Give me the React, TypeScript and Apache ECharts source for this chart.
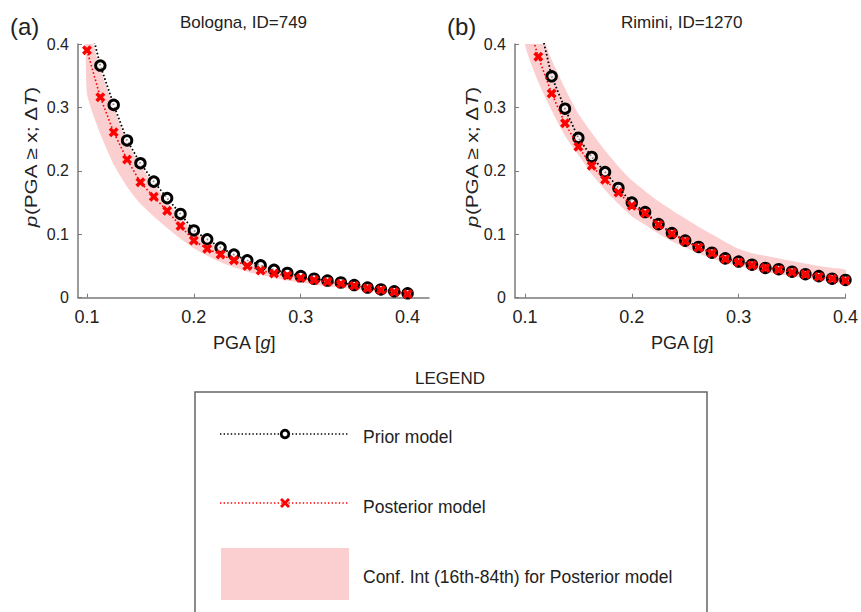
import React, { useEffect, useRef } from 'react';
import * as echarts from 'echarts';

// PGA grid (g)
const PGA = [0.1, 0.1125, 0.125, 0.1375, 0.15, 0.1625, 0.175, 0.1875, 0.2, 0.2125, 0.225, 0.2375, 0.25,
  0.2625, 0.275, 0.2875, 0.3, 0.3125, 0.325, 0.3375, 0.35, 0.3625, 0.375, 0.3875, 0.4];
const X_TICKS = [0.1, 0.2, 0.3, 0.4];

// (a) Bologna, ID=749
const bolognaPrior = [0.45, 0.366, 0.304, 0.248, 0.212, 0.183, 0.157, 0.132, 0.106, 0.092, 0.079, 0.068, 0.059,
  0.051, 0.044, 0.039, 0.034, 0.030, 0.027, 0.024, 0.020, 0.016, 0.013, 0.010, 0.007];
const bolognaPosterior = [0.390, 0.316, 0.261, 0.218, 0.182, 0.159, 0.137, 0.113, 0.090, 0.077, 0.068, 0.059, 0.050,
  0.043, 0.038, 0.035, 0.031, 0.028, 0.025, 0.022, 0.019, 0.015, 0.012, 0.009, 0.006];
const bolognaLower = [0.322, 0.258, 0.21, 0.175, 0.148, 0.128, 0.11, 0.093, 0.078, 0.066, 0.056, 0.048, 0.041,
  0.036, 0.031, 0.027, 0.024, 0.021, 0.018, 0.016, 0.013, 0.011, 0.009, 0.006, 0.004];
const bolognaUpper = [0.43, 0.36, 0.30, 0.245, 0.208, 0.178, 0.152, 0.127, 0.104, 0.09, 0.077, 0.067, 0.058,
  0.05, 0.044, 0.039, 0.034, 0.03, 0.027, 0.023, 0.02, 0.017, 0.014, 0.01, 0.007];

// (b) Rimini, ID=1270
const riminiPrior = [0.53, 0.44, 0.349, 0.298, 0.252, 0.222, 0.198, 0.173, 0.150, 0.135, 0.116, 0.102, 0.090,
  0.080, 0.071, 0.062, 0.057, 0.052, 0.047, 0.045, 0.041, 0.037, 0.034, 0.030, 0.028];
const riminiPosterior = [0.45, 0.380, 0.322, 0.275, 0.238, 0.208, 0.186, 0.166, 0.145, 0.133, 0.115, 0.101, 0.089,
  0.079, 0.070, 0.061, 0.056, 0.051, 0.047, 0.044, 0.040, 0.037, 0.033, 0.030, 0.027];
const riminiLower = [0.40, 0.34, 0.295, 0.255, 0.225, 0.195, 0.17, 0.148, 0.128, 0.115, 0.101, 0.089, 0.079,
  0.07, 0.062, 0.055, 0.05, 0.045, 0.041, 0.037, 0.034, 0.031, 0.028, 0.025, 0.023];
const riminiUpper = [0.48, 0.43, 0.375, 0.33, 0.29, 0.26, 0.232, 0.207, 0.185, 0.168, 0.152, 0.138, 0.125,
  0.112, 0.1, 0.088, 0.077, 0.07, 0.066, 0.062, 0.058, 0.054, 0.05, 0.047, 0.044];

const FONT = 'Liberation Sans, Arial, Helvetica, sans-serif';
const RED = '#ff0000';
const PINK = '#fbcfcf';
const AXIS = '#7a7a7a';
const TXT = '#222222';
const CROSS = 'path://M0,2.5L2.5,0L5,2.5L7.5,0L10,2.5L7.5,5L10,7.5L7.5,10L5,7.5L2.5,10L0,7.5L2.5,5Z';

function panelSeries(idx: number, prior: number[], post: number[], lower: number[], upper: number[]) {
  return [
    {
      type: 'custom',
      xAxisIndex: idx,
      yAxisIndex: idx,
      clip: true,
      silent: true,
      z: 1,
      data: [[PGA[0], lower[0]]],
      renderItem: (_p: any, api: any) => {
        const pts: number[][] = [];
        for (let i = 0; i < PGA.length; i++) pts.push(api.coord([PGA[i], upper[i]]));
        for (let i = PGA.length - 1; i >= 0; i--) pts.push(api.coord([PGA[i], lower[i]]));
        return { type: 'polygon', shape: { points: pts, smooth: 0.2 }, style: { fill: PINK } };
      },
    },
    {
      type: 'line',
      xAxisIndex: idx,
      yAxisIndex: idx,
      clip: true,
      z: 3,
      data: PGA.map((x, i) => [x, prior[i]]),
      symbol: 'circle',
      symbolSize: 9.5,
      itemStyle: { color: 'rgba(255,255,255,0.55)', borderColor: '#000', borderWidth: 2.9 },
      lineStyle: { color: '#000', width: 1.8, type: [1.6, 2.2] },
    },
    {
      type: 'line',
      xAxisIndex: idx,
      yAxisIndex: idx,
      clip: true,
      z: 4,
      data: PGA.map((x, i) => [x, post[i]]),
      symbol: CROSS,
      symbolSize: 10,
      symbolKeepAspect: true,
      itemStyle: { color: RED, borderWidth: 0 },
      lineStyle: { color: RED, width: 1.6, type: [1.6, 2.2] },
    },
  ];
}

function xAxisCfg(idx: number, min: number, max: number) {
  return {
    gridIndex: idx,
    type: 'value',
    min,
    max,
    axisLine: { show: true, onZero: false, lineStyle: { color: AXIS, width: 1.5 } },
    axisTick: { show: true, inside: true, length: 4, customValues: X_TICKS, lineStyle: { color: AXIS } },
    axisLabel: {
      customValues: X_TICKS,
      formatter: (v: number) => v.toFixed(1),
      fontFamily: FONT,
      fontSize: 18,
      color: TXT,
      margin: 10,
    },
    splitLine: { show: false },
  };
}

function yAxisCfg(idx: number) {
  return {
    gridIndex: idx,
    type: 'value',
    min: 0,
    max: 0.4,
    interval: 0.1,
    axisLine: { show: true, onZero: false, lineStyle: { color: AXIS, width: 1.5 } },
    axisTick: { show: true, inside: true, length: 4, lineStyle: { color: AXIS } },
    axisLabel: {
      formatter: (v: number) => (v === 0 ? '0' : v.toFixed(1)),
      fontFamily: FONT,
      fontSize: 16,
      color: TXT,
      margin: 9,
    },
    splitLine: { show: false },
  };
}

function txt(text: string, x: number, y: number, size: number, align = 'center', extra: any = {}) {
  return {
    type: 'text',
    x,
    y,
    ...extra,
    style: {
      text,
      fontFamily: FONT,
      fontSize: size,
      fill: TXT,
      align,
      verticalAlign: 'middle',
      ...(extra.style || {}),
    },
  };
}

const ITAL = { i: { fontStyle: 'italic', fontFamily: FONT, fontSize: 17, fill: TXT } };
const ITAL18 = { i: { fontStyle: 'italic', fontFamily: FONT, fontSize: 18, fill: TXT } };

export default function App() {
  const ref = useRef<HTMLDivElement>(null);
  useEffect(() => {
    if (!ref.current) return;
    const chart = echarts.init(ref.current, undefined, { renderer: 'svg' });
    const yName = '{i|p}(PGA ≥ x; Δ{i|T})';
    const option: any = {
      animation: false,
      backgroundColor: '#ffffff',
      grid: [
        { left: 78, top: 44, width: 351, height: 253.7 },
        { left: 515, top: 44, width: 331.7, height: 253.7 },
      ],
      xAxis: [xAxisCfg(0, 0.0916, 0.42), xAxisCfg(1, 0.0907, 0.4)],
      yAxis: [yAxisCfg(0), yAxisCfg(1)],
      series: [
        ...panelSeries(0, bolognaPrior, bolognaPosterior, bolognaLower, bolognaUpper),
        ...panelSeries(1, riminiPrior, riminiPosterior, riminiLower, riminiUpper),
      ],
      graphic: [
        txt('(a)', 10, 26, 24, 'left'),
        txt('(b)', 447, 26, 24, 'left'),
        txt('Bologna, ID=749', 243.5, 22.7, 17),
        txt('Rimini, ID=1270', 681.7, 22.7, 17),
        txt(yName, 31, 157, 17, 'center', { rotation: Math.PI / 2, scaleX: 1.22, style: { rich: ITAL } }),
        txt(yName, 472.5, 157, 17, 'center', { rotation: Math.PI / 2, scaleX: 1.22, style: { rich: ITAL } }),
        txt('PGA [{i|g}]', 244, 343, 18, 'center', { style: { rich: ITAL18 } }),
        txt('PGA [{i|g}]', 682, 343, 18, 'center', { style: { rich: ITAL18 } }),
        txt('LEGEND', 450, 378, 17),
        {
          type: 'rect',
          shape: { x: 195, y: 392, width: 512, height: 240 },
          style: { fill: 'none', stroke: '#666666', lineWidth: 1.5 },
        },
        {
          type: 'line',
          shape: { x1: 220, y1: 434, x2: 349, y2: 434 },
          style: { stroke: '#000', lineWidth: 1.6, lineDash: [1.4, 2.2] },
        },
        {
          type: 'circle',
          shape: { cx: 285, cy: 434, r: 3.8 },
          style: { fill: '#ffffff', stroke: '#000', lineWidth: 2.8 },
        },
        txt('Prior model', 363, 437, 17.5, 'left'),
        {
          type: 'line',
          shape: { x1: 220, y1: 503, x2: 349, y2: 503 },
          style: { stroke: RED, lineWidth: 1.6, lineDash: [1.4, 2.2] },
        },
        {
          type: 'line',
          shape: { x1: 281, y1: 499, x2: 289, y2: 507 },
          style: { stroke: RED, lineWidth: 2.8 },
        },
        {
          type: 'line',
          shape: { x1: 289, y1: 499, x2: 281, y2: 507 },
          style: { stroke: RED, lineWidth: 2.8 },
        },
        txt('Posterior model', 363, 507, 17.5, 'left'),
        {
          type: 'rect',
          shape: { x: 221, y: 548, width: 128, height: 52 },
          style: { fill: PINK },
        },
        txt('Conf. Int (16th-84th) for Posterior model', 363, 577, 17.5, 'left'),
      ],
    };
    chart.setOption(option);
    return () => chart.dispose();
  }, []);
  return (
    <div
      ref={ref}
      style={{ position: 'fixed', left: 0, top: 0, width: 861, height: 612, background: '#fff' }}
    />
  );
}
